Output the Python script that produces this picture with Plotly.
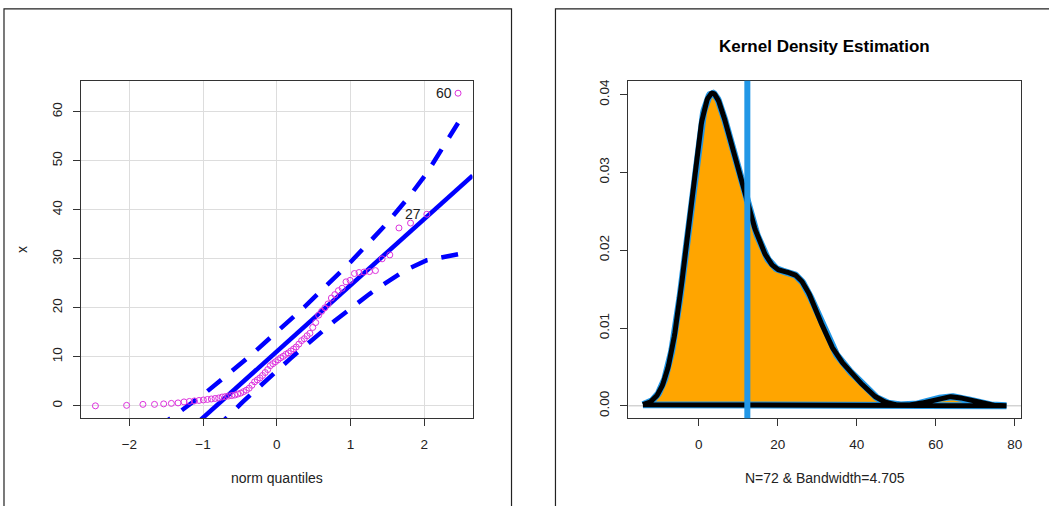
import numpy as np
import plotly.graph_objects as go
from statistics import NormalDist

x_values = [
    0.0, 0.1, 0.3, 0.3, 0.4, 0.5, 0.6, 0.8,
    0.9, 1.0, 1.1, 1.2, 1.3, 1.4, 1.5, 1.6,
    1.8, 1.9, 2.0, 2.1, 2.2, 2.4, 2.6, 2.9, 3.2, 3.6,
    4.2, 4.9, 5.3, 5.7, 6.2, 6.8, 7.4, 8.2, 8.6, 9.0,
    9.4, 9.8, 10.1, 10.5, 10.8, 11.2, 11.6, 12.0, 12.6, 13.3,
    13.7, 14.3, 14.8, 16.0, 17.0, 18.5, 19.3, 20.0, 20.8, 22.0,
    22.7, 23.5, 24.0, 25.3, 25.6, 27.0, 27.2, 27.3, 27.4, 27.6,
    30.0, 30.8, 36.3, 37.3, 39.1, 63.8,
]
outlier_ids = ["27", "60"]          # labels of the two largest observations
bandwidth = 4.705
left_xticks = [-2, -1, 0, 1, 2]
left_yticks = [0, 10, 20, 30, 40, 50, 60]
right_xticks = [0, 20, 40, 60, 80]
right_yticks = [0.00, 0.01, 0.02, 0.03, 0.04]
right_ytext = ["0.00", "0.01", "0.02", "0.03", "0.04"]

# ---------------- derived statistics ----------------
nd = NormalDist()
xs = np.sort(np.array(x_values))
n = len(xs)
P = (np.arange(1, n + 1) - 0.5) / n
z = np.array([nd.inv_cdf(p) for p in P])
q1, q3 = np.quantile(xs, [0.25, 0.75])
slope = (q3 - q1) / (nd.inv_cdf(0.75) - nd.inv_cdf(0.25))
intercept = q1 - slope * nd.inv_cdf(0.25)
fit = intercept + slope * z
se = slope / np.array([nd.pdf(v) for v in z]) * np.sqrt(P * (1 - P) / n)
zz = nd.inv_cdf(0.975)
upper = fit + zz * se
lower = fit - zz * se

def ext(lo, hi):
    s = hi - lo
    return [lo - 0.04 * s, hi + 0.04 * s]

lx_range = ext(z.min(), z.max())
ly_range = ext(xs.min(), xs.max())

# kernel density estimate (gaussian, cut = 3)
grid = np.linspace(xs.min() - 3 * bandwidth, xs.max() + 3 * bandwidth, 512)
dens = np.exp(-0.5 * ((grid[:, None] - xs[None, :]) / bandwidth) ** 2).sum(axis=1)
dens /= n * bandwidth * np.sqrt(2 * np.pi)
rx_range = ext(grid.min(), grid.max())
ry_range = ext(0.0, dens.max())
mean_val = xs.mean()

# ---------------- figure ----------------
W, H = 1049, 506
FONT = "Liberation Sans, Arial, sans-serif"
TXT = "#222222"
BLUE = "#0000FF"
R4 = "#2297E6"

fig = go.Figure()

# QQ plot
line_x = np.array(lx_range)
fig.add_trace(go.Scatter(x=line_x, y=intercept + slope * line_x, mode="lines",
                         line=dict(color=BLUE, width=4.5), xaxis="x", yaxis="y",
                         showlegend=False, hoverinfo="skip"))
for env in (upper, lower):
    fig.add_trace(go.Scatter(x=z, y=env, mode="lines",
                             line=dict(color=BLUE, width=4.5, dash="18px,14px"),
                             xaxis="x", yaxis="y", showlegend=False, hoverinfo="skip"))
fig.add_trace(go.Scatter(x=z, y=xs, mode="markers",
                         marker=dict(symbol="circle-open", size=6, color="#DD33DD",
                                     line=dict(width=1, color="#DD33DD")),
                         xaxis="x", yaxis="y", showlegend=False))
for k, lab in enumerate(outlier_ids):
    idx = n - len(outlier_ids) + k
    fig.add_annotation(x=z[idx], y=xs[idx], xref="x", yref="y", text=lab,
                       showarrow=False, xanchor="right", yanchor="middle", xshift=-4,
                       font=dict(family=FONT, size=14, color=TXT))

# density plot
px = np.concatenate([grid, grid[:1]])
py = np.concatenate([dens, dens[:1]])
fig.add_trace(go.Scatter(x=px, y=py, mode="lines", fill="toself", fillcolor="#FFA500",
                         line=dict(color=R4, width=7), xaxis="x2", yaxis="y2",
                         showlegend=False, hoverinfo="skip"))
fig.add_trace(go.Scatter(x=px, y=py, mode="lines",
                         line=dict(color="#000000", width=5), xaxis="x2", yaxis="y2",
                         showlegend=False, hoverinfo="skip"))

# zero line and mean line
fig.add_shape(type="line", xref="x2 domain", yref="y2", x0=0, x1=1, y0=0, y1=0,
              line=dict(color="#BEBEBE", width=1), layer="below")
fig.add_shape(type="line", xref="x2", yref="y2 domain", x0=mean_val, x1=mean_val,
              y0=0, y1=1, line=dict(color=R4, width=6), layer="above")

# outer frames
fig.add_shape(type="rect", xref="paper", yref="paper", x0=4 / W, x1=512 / W,
              y0=-0.2, y1=(H - 7) / H, line=dict(color="#222", width=1.2))
fig.add_shape(type="rect", xref="paper", yref="paper", x0=556 / W, x1=1.2,
              y0=-0.2, y1=(H - 7) / H, line=dict(color="#222", width=1.2))

ydom = [(H - 418) / H, (H - 79) / H]
axis_common = dict(showline=True, mirror=True, linecolor="#333", linewidth=1,
                   ticks="outside", ticklen=7, tickcolor="#333", zeroline=False,
                   tickfont=dict(family=FONT, size=13.5, color=TXT), fixedrange=True)

fig.update_layout(
    width=W, height=H, margin=dict(l=0, r=0, t=0, b=0),
    paper_bgcolor="white", plot_bgcolor="white", showlegend=False,
    xaxis=dict(domain=[81 / W, 473 / W], range=lx_range, tickvals=left_xticks,
               showgrid=True, gridcolor="#DDDDDD", gridwidth=1, ticklabelstandoff=6,
               anchor="y", **axis_common),
    yaxis=dict(domain=ydom, range=ly_range, tickvals=left_yticks, tickangle=-90,
               showgrid=True, gridcolor="#DDDDDD", gridwidth=1, ticklabelstandoff=6,
               anchor="x", **axis_common),
    xaxis2=dict(domain=[629 / W, 1022 / W], range=rx_range, tickvals=right_xticks,
                showgrid=False, ticklabelstandoff=6, anchor="y2", **axis_common),
    yaxis2=dict(domain=ydom, range=ry_range, tickvals=right_yticks, ticktext=right_ytext,
                tickangle=-90, showgrid=False, ticklabelstandoff=6, anchor="x2",
                **axis_common),
)

# titles / axis labels
fig.add_annotation(text="<b>Kernel Density Estimation</b>", xref="paper", yref="paper",
                   x=825.5 / W, y=(H - 45) / H, showarrow=False, xanchor="center",
                   yanchor="middle", font=dict(family=FONT, size=17, color="#000"))
fig.add_annotation(text="norm quantiles", xref="paper", yref="paper",
                   x=277 / W, y=(H - 478) / H, showarrow=False, xanchor="center",
                   yanchor="middle", font=dict(family=FONT, size=14, color=TXT))
fig.add_annotation(text="N=72 & Bandwidth=4.705", xref="paper", yref="paper",
                   x=825.5 / W, y=(H - 478) / H, showarrow=False, xanchor="center",
                   yanchor="middle", font=dict(family=FONT, size=14, color=TXT))
fig.add_annotation(text="x", xref="paper", yref="paper", textangle=-90,
                   x=22 / W, y=(H - 248) / H, showarrow=False, xanchor="center",
                   yanchor="middle", font=dict(family=FONT, size=14, color=TXT))

fig.write_html("out.html")
